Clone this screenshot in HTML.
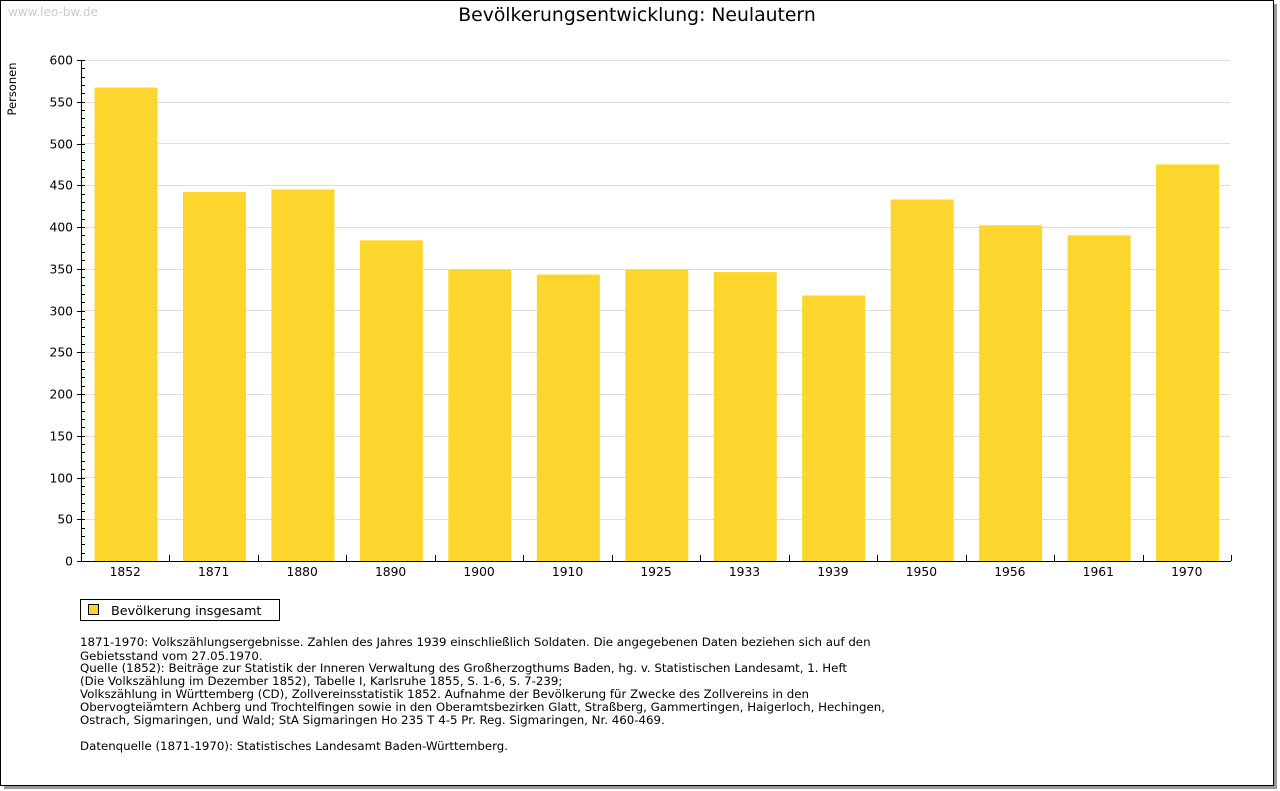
<!DOCTYPE html>
<html><head><meta charset="utf-8"><style>
body{margin:0;background:#fff;width:1280px;height:791px;overflow:hidden}
svg{position:absolute;left:0;top:0}
text{font-family:"DejaVu Sans","Liberation Sans",sans-serif}
</style></head><body>
<svg width="1280" height="791" xmlns="http://www.w3.org/2000/svg">
<rect x="4" y="4" width="1273" height="785" fill="#999"/>
<rect x="0.5" y="0.5" width="1273" height="785" fill="#fff" stroke="#000"/>
<text x="8" y="16" font-size="12" fill="#ccc">www.leo-bw.de</text>
<text x="637" y="21" font-size="18.8" text-anchor="middle" fill="#000">Bevölkerungsentwicklung: Neulautern</text>
<text transform="translate(16,89) rotate(-90)" font-size="11.5" text-anchor="middle">Personen</text>
<g id="grid" stroke="#ddd" stroke-width="1">
<line x1="82" x2="1230" y1="60.5" y2="60.5"/><line x1="82" x2="1230" y1="102.5" y2="102.5"/>
<line x1="82" x2="1230" y1="143.5" y2="143.5"/><line x1="82" x2="1230" y1="185.5" y2="185.5"/>
<line x1="82" x2="1230" y1="227.5" y2="227.5"/><line x1="82" x2="1230" y1="269.5" y2="269.5"/>
<line x1="82" x2="1230" y1="310.5" y2="310.5"/><line x1="82" x2="1230" y1="352.5" y2="352.5"/>
<line x1="82" x2="1230" y1="394.5" y2="394.5"/><line x1="82" x2="1230" y1="436.5" y2="436.5"/>
<line x1="82" x2="1230" y1="477.5" y2="477.5"/><line x1="82" x2="1230" y1="519.5" y2="519.5"/>
</g>
<g fill="#fcd62d" id="bars"></g>
<g id="axes" stroke="#000"></g>
<g id="labels" font-size="12.3" fill="#000"></g>
<rect x="80.5" y="599.5" width="199" height="21" fill="#fff" stroke="#000"/>
<rect x="88.5" y="604.5" width="10" height="10" fill="#fcd62d" stroke="#000"/>
<text x="111" y="615" font-size="12.8">Bevölkerung insgesamt</text>
<g font-size="11.8" fill="#000">
<text x="80" y="646">1871-1970: Volkszählungsergebnisse. Zahlen des Jahres 1939 einschließlich Soldaten. Die angegebenen Daten beziehen sich auf den</text>
<text x="80" y="660">Gebietsstand vom 27.05.1970.</text>
<text x="80" y="672">Quelle (1852): Beiträge zur Statistik der Inneren Verwaltung des Großherzogthums Baden, hg. v. Statistischen Landesamt, 1. Heft</text>
<text x="80" y="685">(Die Volkszählung im Dezember 1852), Tabelle I, Karlsruhe 1855, S. 1-6, S. 7-239;</text>
<text x="80" y="698">Volkszählung in Württemberg (CD), Zollvereinsstatistik 1852. Aufnahme der Bevölkerung für Zwecke des Zollvereins in den</text>
<text x="80" y="711">Obervogteiämtern Achberg und Trochtelfingen sowie in den Oberamtsbezirken Glatt, Straßberg, Gammertingen, Haigerloch, Hechingen,</text>
<text x="80" y="724">Ostrach, Sigmaringen, und Wald; StA Sigmaringen Ho 235 T 4-5 Pr. Reg. Sigmaringen, Nr. 460-469.</text>
<text x="80" y="750">Datenquelle (1871-1970): Statistisches Landesamt Baden-Württemberg.</text>
</g>
</svg>
<script>
const ns="http://www.w3.org/2000/svg";
function el(p,t,a,txt){const e=document.createElementNS(ns,t);for(const k in a)e.setAttribute(k,a[k]);if(txt!=null)e.textContent=txt;document.getElementById(p).appendChild(e);}
const yrs=[1852,1871,1880,1890,1900,1910,1925,1933,1939,1950,1956,1961,1970];
const v=[567,442,445,384,349,343,349,346,318,433,402,390,475];
const y0=561,s=501/600,x0=81,pw=(1231-81)/13;
yrs.forEach((yr,i)=>{const h=v[i]*s;el("bars","rect",{x:x0+i*pw+13.5,y:y0-h,width:63,height:h});
el("labels","text",{x:x0+i*pw+pw/2,y:576,"text-anchor":"middle"},yr);
el("axes","line",{x1:Math.round(x0+(i+1)*pw)+.5,x2:Math.round(x0+(i+1)*pw)+.5,y1:555,y2:561});});
el("axes","line",{x1:81.5,x2:81.5,y1:60,y2:561});
el("axes","line",{x1:81,x2:1231,y1:561.5,y2:561.5});
for(let u=0;u<=600;u+=10){const y=Math.round(y0-u*s)+.5;el("axes","line",{x1:u%50?81:77,x2:85,y1:y,y2:y});
if(u%50==0)el("labels","text",{x:73,y:y+4,"text-anchor":"end"},u);}
</script>
</body></html>
